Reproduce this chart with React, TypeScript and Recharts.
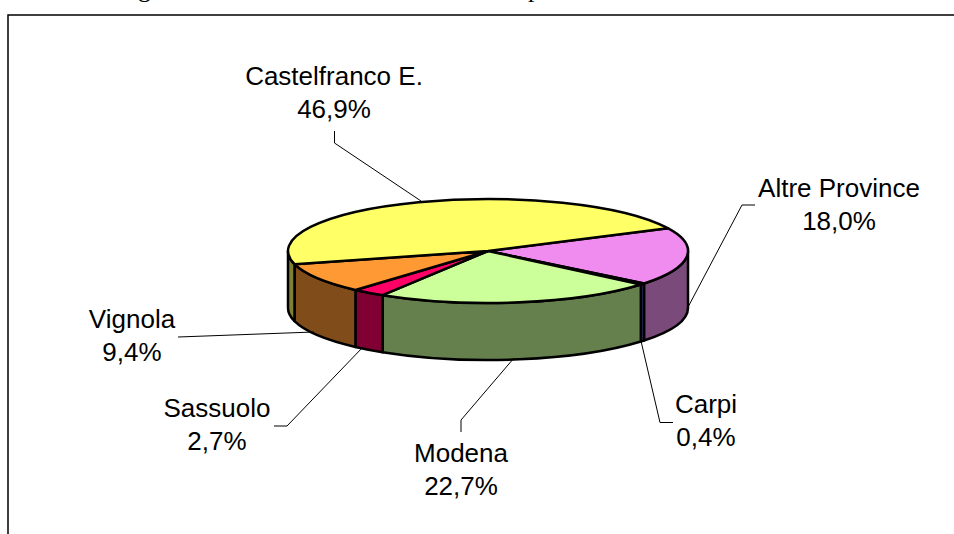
import { PieChart, Pie, Cell } from 'recharts'

const categories = ['Altre Province', 'Carpi', 'Modena', 'Sassuolo', 'Vignola', 'Castelfranco E.']
const shares = [18.0, 0.4, 22.7, 2.7, 9.4, 46.9]
const topColors = ['#F08CF0', '#6666CC', '#CCFF99', '#FF0066', '#FF9933', '#FFFF66']
const wallColors = ['#7A4A7A', '#333366', '#66804D', '#800033', '#804D1A', '#808033']

const chartData = categories.map((name, i) => ({ name, value: shares[i], top: topColors[i], wall: wallColors[i] }))

// 3D look: the circle is squashed into an ellipse and extruded downwards
const SQUASH = 0.26
const DEPTH = 57
const START_ANGLE = 26

const FONT = 'Liberation Sans, Arial, sans-serif'

// label text centre + first baseline, and the leader line going to the pie
const LABEL_LAYOUT = [
  { x: 839, y: 197, leader: [[755, 205], [742, 205], [687, 309]] },
  { x: 706, y: 413, leader: [[673, 422.5], [660, 422.5], [641, 341]] },
  { x: 461, y: 462, leader: [[461, 432], [461, 420], [514, 358]] },
  { x: 217, y: 417, leader: [[274, 426], [287, 426], [363, 347]] },
  { x: 132, y: 328, leader: [[178, 337], [314, 332]] },
  { x: 334, y: 85, leader: [[334.5, 131], [334.5, 143], [421, 201]] },
]

function pointAt(cx: number, cy: number, r: number, deg: number) {
  const rad = (deg * Math.PI) / 180
  return { x: cx + r * Math.cos(rad), y: cy - r * SQUASH * Math.sin(rad) }
}

function TopSlice(props: any) {
  const { cx, cy, outerRadius: r, startAngle, endAngle, payload } = props
  const a = pointAt(cx, cy, r, startAngle)
  const b = pointAt(cx, cy, r, endAngle)
  const large = Math.abs(startAngle - endAngle) > 180 ? 1 : 0
  const d = `M${cx},${cy} L${a.x},${a.y} A${r},${r * SQUASH} 0 ${large} 1 ${b.x},${b.y} Z`
  return <path d={d} fill={payload.top} stroke="#000" strokeWidth={2.5} strokeLinejoin="round" />
}

function WallSlice(props: any) {
  const { cx, cy, outerRadius: r, startAngle, endAngle, payload } = props
  // only the front half of the rim can be seen
  const from = Math.min(startAngle, 0)
  const to = Math.max(endAngle, -180)
  if (from <= to) return null
  const a = pointAt(cx, cy, r, from)
  const b = pointAt(cx, cy, r, to)
  const ry = r * SQUASH
  const d = `M${a.x},${a.y} A${r},${ry} 0 0 1 ${b.x},${b.y} L${b.x},${b.y + DEPTH} A${r},${ry} 0 0 0 ${a.x},${a.y + DEPTH} Z`
  return <path d={d} fill={payload.wall} stroke="#000" strokeWidth={2.5} strokeLinejoin="round" />
}

function SliceLabel(props: any) {
  const { index, name, value } = props
  const layout = LABEL_LAYOUT[index]
  return (
    <g>
      <polyline
        points={layout.leader.map((p) => p.join(',')).join(' ')}
        fill="none"
        stroke="#000"
        strokeWidth={1}
      />
      <text x={layout.x} y={layout.y} textAnchor="middle" fontFamily={FONT} fontSize={26} fill="#000">
        {name}
      </text>
      <text x={layout.x} y={layout.y + 33} textAnchor="middle" fontFamily={FONT} fontSize={26} fill="#000">
        {value.toFixed(1).replace('.', ',')}%
      </text>
    </g>
  )
}

export default function App() {
  return (
    <div style={{ position: 'absolute', left: 0, top: 0, width: 954, height: 534, overflow: 'hidden', background: '#fff' }}>
      <PieChart width={954} height={534} margin={{ top: 0, right: 0, bottom: 0, left: 0 }}>
        {/* frame of the chart, cut off by the page on the right and at the bottom */}
        <path d="M8,534 L8,15 L954,15" fill="none" stroke="#000" strokeWidth={1.5} />
        {/* the caption above is cut by the page, only descenders remain */}
        <text x={138} y={-3} fontFamily="Liberation Serif, serif" fontSize={26} fill="#000">g</text>
        <text x={528} y={-3} fontFamily="Liberation Serif, serif" fontSize={26} fill="#000">p</text>
        <Pie
          data={chartData}
          dataKey="value"
          nameKey="name"
          cx={488}
          cy={251}
          outerRadius={200}
          startAngle={START_ANGLE}
          endAngle={START_ANGLE - 360}
          shape={WallSlice}
          stroke="none"
          isAnimationActive={false}
        >
          {chartData.map((_entry, i) => (
            <Cell key={`wall-${i}`} fill={wallColors[i]} />
          ))}
        </Pie>
        <Pie
          data={chartData}
          dataKey="value"
          nameKey="name"
          cx={488}
          cy={251}
          outerRadius={200}
          startAngle={START_ANGLE}
          endAngle={START_ANGLE - 360}
          shape={TopSlice}
          label={SliceLabel}
          labelLine={false}
          stroke="none"
          isAnimationActive={false}
        >
          {chartData.map((_entry, i) => (
            <Cell key={`top-${i}`} fill={topColors[i]} />
          ))}
        </Pie>
      </PieChart>
    </div>
  )
}
